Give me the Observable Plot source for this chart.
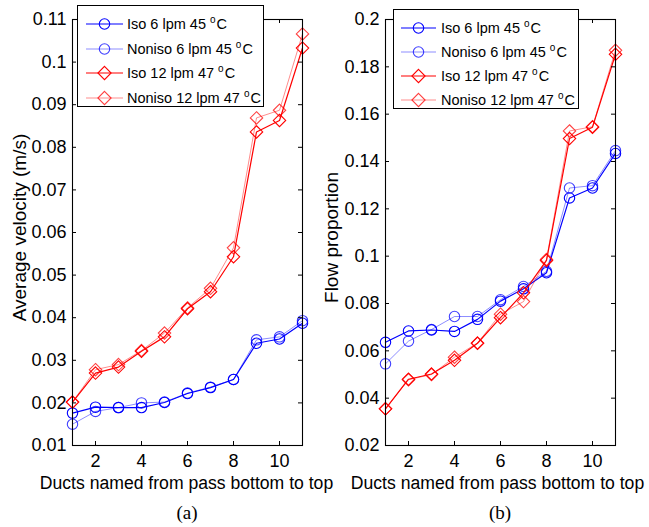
<!DOCTYPE html>
<html>
<head>
<meta charset="utf-8">
<script src="https://cdn.jsdelivr.net/npm/d3@7"></script>
<script src="https://cdn.jsdelivr.net/npm/@observablehq/plot@0.6"></script>
<style>
  body { margin: 0; background: #fff; }
  #fig { position: relative; width: 649px; height: 527px; overflow: hidden;
         font-family: "Liberation Sans", Arial, Helvetica, sans-serif; color: #000; }
  .panel { position: absolute; top: 0; }
  .panel svg { overflow: visible; }
  .legend { position: absolute; background: #fff; border: 1px solid #000; box-sizing: border-box; }
  .row { position: absolute; left: 0; height: 22px; display: flex; align-items: center; white-space: nowrap; font-size: 14.5px; }
  .row svg { position: absolute; top: 0; }
  .row span.t { position: absolute; }
  .deg { font-size: 10px; position: relative; top: -6px; margin-right: 1px; }
  .cap { position: absolute; font-family: "Liberation Serif", "Times New Roman", serif; font-size: 19px;
         transform: translateX(-50%); white-space: nowrap; }
</style>
</head>
<body>
<div id="fig"></div>
<script>
// Duct index along the pass (bottom to top)
const ducts = [1, 2, 3, 4, 5, 6, 7, 8, 9, 10, 11];

// Series names
const seriesNames = ["Iso 6 lpm 45 °C", "Noniso 6 lpm 45 °C", "Iso 12 lpm 47 °C", "Noniso 12 lpm 47 °C"];

// (a) Average velocity in each duct (m/s)
const velIso6    = [0.0176, 0.0190, 0.0189, 0.0189, 0.0201, 0.0222, 0.0236, 0.0255, 0.0340, 0.0350, 0.0387];
const velNoniso6 = [0.0150, 0.0180, 0.0189, 0.0200, 0.0202, 0.0223, 0.0237, 0.0255, 0.0348, 0.0355, 0.0393];
const velIso12   = [0.0202, 0.0270, 0.0284, 0.0321, 0.0355, 0.0421, 0.0461, 0.0543, 0.0836, 0.0863, 0.1033];
const velNoniso12= [0.0202, 0.0278, 0.0290, 0.0323, 0.0364, 0.0423, 0.0469, 0.0564, 0.0869, 0.0887, 0.1066];

// (b) Flow proportion in each duct
const flowIso6    = [0.0636, 0.0684, 0.0688, 0.0682, 0.0733, 0.0810, 0.0862, 0.0930, 0.1246, 0.1288, 0.1434];
const flowNoniso6 = [0.0545, 0.0641, 0.0690, 0.0745, 0.0745, 0.0816, 0.0872, 0.0936, 0.1288, 0.1298, 0.1446];
const flowIso12   = [0.0355, 0.0480, 0.0502, 0.0560, 0.0632, 0.0740, 0.0845, 0.0982, 0.1497, 0.1545, 0.1853];
const flowNoniso12= [0.0355, 0.0478, 0.0500, 0.0573, 0.0633, 0.0755, 0.0808, 0.0986, 0.1529, 0.1547, 0.1870];

// Tick values and labels
const xTicks = [2, 4, 6, 8, 10];
const velTicks = [0.01, 0.02, 0.03, 0.04, 0.05, 0.06, 0.07, 0.08, 0.09, 0.1, 0.11];
const velTickLabels = ["0.01", "0.02", "0.03", "0.04", "0.05", "0.06", "0.07", "0.08", "0.09", "0.1", "0.11"];
const flowTicks = [0.02, 0.04, 0.06, 0.08, 0.1, 0.12, 0.14, 0.16, 0.18, 0.2];
const flowTickLabels = ["0.02", "0.04", "0.06", "0.08", "0.1", "0.12", "0.14", "0.16", "0.18", "0.2"];

const xLabel = "Ducts named from pass bottom to top";
const velLabel = "Average velocity (m/s)";
const flowLabel = "Flow proportion";

// Line/marker styling per series
const styles = [
  {color: "#0000ff", lineOpacity: 1,    markOpacity: 1,    width: 1.2, symbol: "circle"},
  {color: "#0000ff", lineOpacity: 0.45, markOpacity: 0.75, width: 1,   symbol: "circle"},
  {color: "#ff0000", lineOpacity: 1,    markOpacity: 1,    width: 1.2, symbol: "diamond2"},
  {color: "#ff0000", lineOpacity: 0.45, markOpacity: 0.75, width: 1,   symbol: "diamond2"}
];

const H = 500, MT = 19, MB = 55, TICK = 4;

function panel({series, yDomain, yTicks, yTickLabels, yLabel, width, marginLeft, marginRight, yLabelDx, yLabelDy, xLabelDx}) {
  const iw = width - marginLeft - marginRight;
  const ih = H - MT - MB;
  const marks = [];
  series.forEach((vals, k) => {
    const s = styles[k];
    marks.push(Plot.line(ducts, {x: d => d, y: (d, i) => vals[i], stroke: s.color,
      strokeOpacity: s.lineOpacity, strokeWidth: s.width}));
    marks.push(Plot.dot(ducts, {x: d => d, y: (d, i) => vals[i], symbol: s.symbol,
      r: s.symbol === "circle" ? 5.2 : 5.6, stroke: s.color, strokeOpacity: s.markOpacity,
      fill: "none", strokeWidth: 1.1}));
  });
  // inward ticks on all four sides
  marks.push(Plot.ruleY(yTicks, {y: d => d, insetRight: iw - TICK, stroke: "#000"}));
  marks.push(Plot.ruleY(yTicks, {y: d => d, insetLeft: iw - TICK, stroke: "#000"}));
  marks.push(Plot.ruleX(xTicks, {x: d => d, insetTop: ih - TICK, stroke: "#000"}));
  marks.push(Plot.ruleX(xTicks, {x: d => d, insetBottom: ih - TICK, stroke: "#000"}));
  marks.push(Plot.frame({stroke: "#000", strokeWidth: 1.1}));
  marks.push(Plot.axisY({ticks: yTicks, tickSize: 0, tickPadding: 6, label: null,
    tickFormat: (d, i) => yTickLabels[i], fontSize: 18}));
  marks.push(Plot.axisX({ticks: xTicks, tickSize: 0, tickPadding: 9, label: null,
    tickFormat: d => String(d), fontSize: 18}));
  marks.push(Plot.text([yLabel], {text: d => d, frameAnchor: "left", rotate: -90,
    textAnchor: "middle", lineAnchor: "middle", dx: yLabelDx, dy: yLabelDy, fontSize: 19}));
  marks.push(Plot.text([xLabel], {text: d => d, frameAnchor: "bottom", textAnchor: "middle",
    lineAnchor: "middle", dx: xLabelDx, dy: 38, fontSize: 17.6}));
  return Plot.plot({
    width, height: H, marginLeft, marginRight, marginTop: MT, marginBottom: MB,
    x: {domain: [1, 11]},
    y: {domain: yDomain},
    style: {fontFamily: "Liberation Sans, Arial, sans-serif", fontSize: "17px", background: "transparent", color: "#000", overflow: "visible"},
    marks
  });
}

function legend(left, top, w, h, rowYs, sampleX0, sampleX1, textX) {
  const box = document.createElement("div");
  box.className = "legend";
  Object.assign(box.style, {left: left + "px", top: top + "px", width: w + "px", height: h + "px"});
  seriesNames.forEach((name, k) => {
    const s = styles[k];
    const row = document.createElement("div");
    row.className = "row";
    row.style.top = (rowYs[k] - 11) + "px";
    row.style.width = w + "px";
    const mx = (sampleX0 + sampleX1) / 2;
    const marker = s.symbol === "circle"
      ? `<circle cx="${mx}" cy="11" r="5.2" fill="none" stroke="${s.color}" stroke-opacity="${s.markOpacity}" stroke-width="1.1"/>`
      : `<polygon points="${mx},${11 - 6.6} ${mx + 6.6},11 ${mx},${11 + 6.6} ${mx - 6.6},11" fill="none" stroke="${s.color}" stroke-opacity="${s.markOpacity}" stroke-width="1.1"/>`;
    const parts = name.split("°");
    row.innerHTML =
      `<svg width="${w}" height="22"><line x1="${sampleX0}" x2="${sampleX1}" y1="11" y2="11" stroke="${s.color}" stroke-opacity="${s.lineOpacity}" stroke-width="${s.width}"/>${marker}</svg>` +
      `<span class="t" style="left:${textX}px">${parts[0]}<span class="deg">o</span>${parts[1]}</span>`;
    box.appendChild(row);
  });
  return box;
}

const fig = document.getElementById("fig");

// panel (a)
const pa = document.createElement("div");
pa.className = "panel"; pa.style.left = "0px";
pa.appendChild(panel({
  series: [velIso6, velNoniso6, velIso12, velNoniso12],
  yDomain: [0.01, 0.11], yTicks: velTicks, yTickLabels: velTickLabels, yLabel: velLabel,
  width: 310, marginLeft: 72, marginRight: 8, yLabelDx: -53, yLabelDy: -5, xLabelDx: -1
}));
fig.appendChild(pa);
fig.appendChild(legend(77, 5, 187, 102, [18, 43, 67, 92], 8, 45, 49));

// panel (b)
const pb = document.createElement("div");
pb.className = "panel"; pb.style.left = "310px";
pb.appendChild(panel({
  series: [flowIso6, flowNoniso6, flowIso12, flowNoniso12],
  yDomain: [0.02, 0.2], yTicks: flowTicks, yTickLabels: flowTickLabels, yLabel: flowLabel,
  width: 339, marginLeft: 75, marginRight: 34, yLabelDx: -54, yLabelDy: 5, xLabelDx: -3
}));
fig.appendChild(pb);
fig.appendChild(legend(393, 9, 186, 100, [18, 42, 66, 90], 7, 42, 47));

// captions
for (const [txt, cx] of [["(a)", 187], ["(b)", 500]]) {
  const c = document.createElement("div");
  c.className = "cap"; c.textContent = txt;
  c.style.left = cx + "px"; c.style.top = "502px";
  fig.appendChild(c);
}
</script>
</body>
</html>
